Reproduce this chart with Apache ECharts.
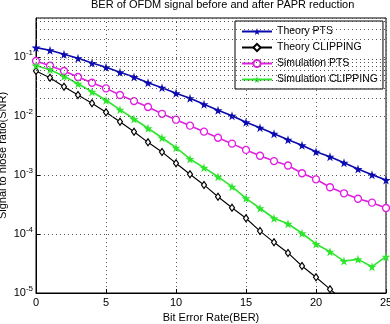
<!DOCTYPE html>
<html>
<head>
<meta charset="utf-8">
<script src="https://cdn.jsdelivr.net/npm/echarts@6/dist/echarts.min.js"></script>
<style>
  html, body { margin: 0; padding: 0; background: #fff; }
  #chart { width: 390px; height: 324px; }
</style>
</head>
<body>
<div id="chart"></div>
<script>
// x 轴数据 (0..25)
const snr = [0, 1, 2, 3, 4, 5, 6, 7, 8, 9, 10, 11, 12, 13, 14, 15, 16, 17, 18, 19, 20, 21, 22, 23, 24, 25];

const theoryPts = [0.144, 0.130, 0.111, 0.0951, 0.0791, 0.0668, 0.0551, 0.0458, 0.0366, 0.0302,
  0.0243, 0.0200, 0.0158, 0.0125, 0.0101, 0.00781, 0.00634, 0.00501, 0.00396, 0.00318,
  0.00248, 0.00204, 0.00161, 0.00126, 0.00101, 0.00082];

const theoryClipping = [0.0579, 0.0446, 0.0314, 0.0227, 0.0164, 0.0116, 0.0080, 0.00542, 0.00358, 0.00246,
  0.00158, 0.00103, 0.000678, 0.000428, 0.000279, 0.000185, 0.000112, 0.0000723, 0.0000477, 0.0000287,
  0.0000185, 0.0000116, 0.0000074, null, null, null];

const simPts = [0.0855, 0.0713, 0.0579, 0.0458, 0.0366, 0.0294, 0.0227, 0.0179, 0.0142, 0.0109,
  0.00865, 0.00686, 0.00542, 0.00428, 0.00340, 0.00266, 0.00212, 0.00172, 0.00145, 0.00107,
  0.000845, 0.00062, 0.00049, 0.000396, 0.00034, 0.000276];

const simClipping = [0.0713, 0.0610, 0.0471, 0.0352, 0.0258, 0.0185, 0.0128, 0.00889, 0.00620, 0.00428,
  0.00290, 0.00187, 0.00133, 0.000935, 0.000634, 0.000403, 0.000273, 0.000185, 0.000149, 0.000103,
  0.0000678, 0.0000501, 0.0000348, 0.0000372, 0.0000279, 0.0000412];

// y 轴次网格线 (每个数量级 2..9)
const decades = [1e-5, 1e-4, 1e-3, 1e-2, 1e-1];
const minorSteps = [2, 3, 4, 5, 6, 7, 8, 9];

const chart = echarts.init(document.getElementById('chart'));

const star = 'path://M50,0 L61,35 L98,35 L68,57 L79,91 L50,70 L21,91 L32,57 L2,35 L39,35 Z';
const yMax = 0.458;

const minorLines = [];
decades.forEach(d => {
  minorSteps.forEach(s => {
    if (d * s < yMax) minorLines.push({ yAxis: d * s });
  });
});

const pair = arr => snr.map((x, i) => [x, arr[i]]);

const option = {
  animation: false,
  textStyle: { fontFamily: 'Liberation Sans, Arial, sans-serif' },
  title: {
    text: 'BER of OFDM signal before and after PAPR reduction',
    left: 86,
    top: -6,
    textStyle: { fontSize: 11, fontWeight: 'normal', color: '#000' }
  },
  legend: {
    orient: 'vertical',
    left: 235,
    top: 21,
    padding: [5, 5, 4, 6],
    itemWidth: 30,
    itemHeight: 9,
    itemGap: 5,
    backgroundColor: '#fff',
    borderColor: '#000',
    borderWidth: 1,
    borderRadius: 0,
    textStyle: { fontSize: 10.5, color: '#000' },
    data: ['Theory PTS', 'Theory CLIPPING', 'Simulation PTS', 'Simulation CLIPPING']
  },
  grid: {
    left: 36,
    right: 4,
    top: 18,
    bottom: 31,
    outerBoundsMode: 'none',
    containLabel: false,
    show: true,
    borderColor: '#000',
    borderWidth: 1
  },
  xAxis: {
    type: 'value',
    min: 0,
    max: 25,
    interval: 5,
    name: 'Bit Error Rate(BER)',
    nameLocation: 'middle',
    nameGap: 19,
    nameMoveOverlap: false,
    nameTextStyle: { fontSize: 11, color: '#000' },
    axisLine: { lineStyle: { color: '#000' } },
    axisTick: { inside: true, length: 4, lineStyle: { color: '#000' } },
    axisLabel: { fontSize: 11, color: '#000', margin: 4 },
    splitLine: { show: true, lineStyle: { type: [1, 3], color: '#555' } }
  },
  yAxis: {
    type: 'log',
    min: 1e-5,
    max: yMax,
    name: 'Signal to niose ratio(SNR)',
    nameLocation: 'middle',
    nameGap: 28,
    nameMoveOverlap: false,
    nameTextStyle: { fontSize: 11, color: '#000' },
    axisLine: { show: true, lineStyle: { color: '#000' } },
    axisTick: { inside: true, length: 4, lineStyle: { color: '#000' } },
    axisLabel: {
      color: '#000',
      margin: 3,
      showMaxLabel: false,
      formatter: v => '10{sup|' + Math.round(Math.log10(v)) + '}',
      rich: {
        sup: { fontSize: 8, padding: [0, 0, 9, 0], color: '#000' }
      },
      fontSize: 11
    },
    splitLine: { show: true, lineStyle: { type: [1, 3], color: '#555' } }
  },
  series: [
    {
      name: 'Theory PTS',
      type: 'line',
      data: pair(theoryPts),
      symbol: star,
      symbolSize: 9,
      color: '#0a0ab0',
      lineStyle: { width: 1.6 },
      z: 4,
      markLine: {
        silent: true,
        symbol: ['none', 'none'],
        label: { show: false },
        lineStyle: { type: [1, 3], color: '#555', width: 1 },
        data: minorLines
      }
    },
    {
      name: 'Theory CLIPPING',
      type: 'line',
      data: pair(theoryClipping),
      symbol: 'diamond',
      symbolSize: [5, 7],
      color: '#000',
      itemStyle: { color: '#fff', borderColor: '#000', borderWidth: 1.2 },
      lineStyle: { width: 1.1, color: '#000' },
      z: 3
    },
    {
      name: 'Simulation PTS',
      type: 'line',
      data: pair(simPts),
      symbol: 'circle',
      symbolSize: 7,
      color: '#e020e0',
      itemStyle: { color: '#fff', borderColor: '#e020e0', borderWidth: 1.3 },
      lineStyle: { width: 1.6, color: '#e020e0' },
      z: 3
    },
    {
      name: 'Simulation CLIPPING',
      type: 'line',
      data: pair(simClipping),
      symbol: star,
      symbolSize: 9,
      color: '#2ee52e',
      lineStyle: { width: 1.6 },
      z: 3
    }
  ]
};

chart.setOption(option);
</script>
</body>
</html>
